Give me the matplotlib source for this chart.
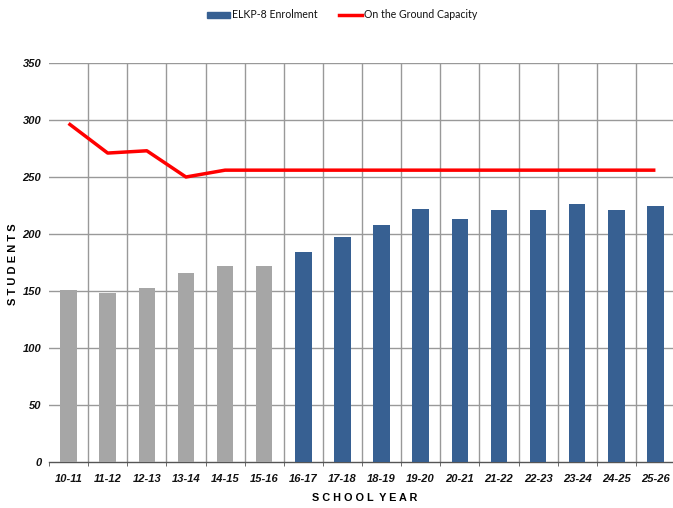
import matplotlib
matplotlib.use("Agg")
import matplotlib.pyplot as plt
from matplotlib.patches import Patch
from matplotlib.lines import Line2D

years = ["10-11", "11-12", "12-13", "13-14", "14-15", "15-16", "16-17", "17-18",
         "18-19", "19-20", "20-21", "21-22", "22-23", "23-24", "24-25", "25-26"]
enrolment = [151, 148, 153, 166, 172, 172, 184, 197, 208, 222, 213, 221, 221, 226, 221, 225]
capacity = [297, 271, 273, 250, 256, 256, 256, 256, 256, 256, 256, 256, 256, 256, 256, 256]
actual_count = 6  # first six years are actuals (grey)

GREY = "#a6a6a6"
BLUE = "#376092"
RED = "#ff0000"
GRID = "#999999"

fig = plt.figure(figsize=(6.73, 5.08), dpi=100)
W, H = 673, 508
ax = fig.add_axes([49 / W, (H - 462) / H, 626 / W, (462 - 63) / H])

x = list(range(len(years)))
colors = [GREY if i < actual_count else BLUE for i in x]
ax.bar(x, enrolment, width=0.42, color=colors, zorder=3)
ax.plot(x, capacity, color=RED, lw=2.5, zorder=4, solid_capstyle="butt")

ax.set_xlim(-0.5, len(years) - 0.5)
ax.set_ylim(0, 350)
ax.set_yticks(range(0, 351, 50))
ax.set_xticks(x)
ax.set_xticklabels(years)
ax.set_xticks([i + 0.5 for i in range(-1, len(years))], minor=True)

for y in range(50, 351, 50):
    ax.axhline(y, color=GRID, lw=1, zorder=1)
for b in range(len(years) - 1):
    ax.axvline(b + 0.5, color=GRID, lw=1, zorder=1)

for s in ["left", "right", "top"]:
    ax.spines[s].set_visible(False)
ax.spines["bottom"].set_color("#555555")
ax.spines["bottom"].set_linewidth(1)

ax.tick_params(axis="x", which="major", length=0, pad=8.5)
ax.tick_params(axis="x", which="minor", length=3, direction="out", color="#555555")
ax.tick_params(axis="y", length=0, pad=5.5)

for lbl in ax.get_xticklabels() + ax.get_yticklabels():
    lbl.set_fontfamily("Liberation Sans")
    lbl.set_fontweight("bold")
    lbl.set_fontstyle("italic")
    lbl.set_fontsize(8)
    lbl.set_color("#111111")

fig.text(12.7 / W, 1 - 264 / H, "S T U D E N T S", rotation=90, ha="center", va="center",
         fontsize=8, fontweight="bold", family="Liberation Sans")
fig.text(365 / W, 1 - 498 / H, "S C H O O L  Y E A R", ha="center", va="center",
         fontsize=7.8, fontweight="bold", family="Liberation Sans")

handles = [Patch(facecolor=BLUE, edgecolor=BLUE),
           Line2D([0], [0], color=RED, lw=2.5)]
leg = fig.legend(handles, ["ELKP-8 Enrolment", "On the Ground Capacity"],
                 loc="center", bbox_to_anchor=(342 / W, 1 - 15 / H), ncol=2,
                 frameon=False, prop={"family": "Lato", "size": 7.6},
                 handlelength=2.2, handleheight=0.55, columnspacing=2.0, handletextpad=0.2,
                 labelcolor="#111111")

fig.savefig("out.png", dpi=100)
